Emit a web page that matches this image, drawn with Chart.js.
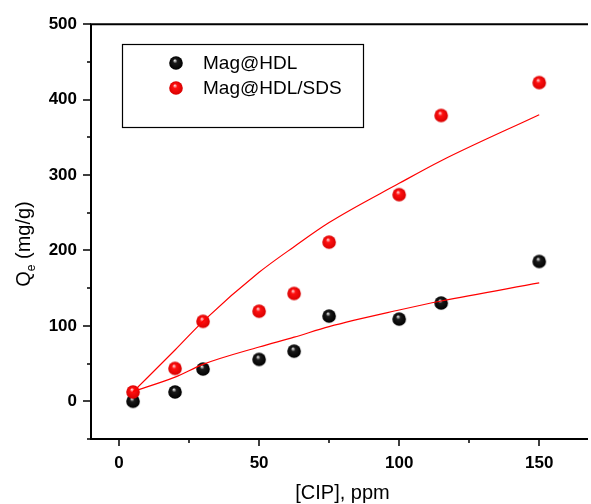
<!DOCTYPE html>
<html>
<head>
<meta charset="utf-8">
<script src="https://cdn.jsdelivr.net/npm/chart.js@4.4.1/dist/chart.umd.min.js"></script>
<style>
  html, body { margin: 0; padding: 0; background: #fff; }
  #wrap { width: 591px; height: 504px; }
</style>
</head>
<body>
<div id="wrap"><canvas id="qe"></canvas></div>
<script>
// CIP concentration, ppm
const cipConc = [5, 20, 30, 50, 62.5, 75, 100, 115, 150];
// measured uptake Qe, mg/g
const qeHdl = [0, 12.4, 42.8, 55.5, 66.5, 113, 109, 130.3, 185.4];
const qeHdlSds = [12.4, 43.6, 106, 119.4, 143, 211, 274, 379, 422.6];
// fitted curves at the same concentrations
const fitHdl = [13, 32, 49, 72, 85, 99, 121, 133, 157];
const fitHdlSds = [12.4, 68, 106, 171, 205, 237, 289, 319, 380];

const seriesNames = ['Mag@HDL', 'Mag@HDL/SDS'];
const xTicks = [0, 25, 50, 75, 100, 125, 150];
const yTicks = [-50, 0, 50, 100, 150, 200, 250, 300, 350, 400, 450, 500];
const xLabelStep = 50;
const yLabelStep = 100;

const FONT = "'Liberation Sans', Arial, sans-serif";

// small shaded sphere used as point marker
function makeBall(light, mid, dark) {
    const size = 16, r = 6.8;
    const c = document.createElement('canvas');
    c.width = size;
    c.height = size;
    const g = c.getContext('2d');
    const cx = size / 2, cy = size / 2;
    const grad = g.createRadialGradient(cx - 1.2, cy - 2.6, 0.3, cx, cy, r);
    grad.addColorStop(0, light);
    grad.addColorStop(0.3, mid);
    grad.addColorStop(1, dark);
    g.fillStyle = grad;
    g.beginPath();
    g.arc(cx, cy, r, 0, Math.PI * 2);
    g.fill();
    return c;
}

const blackBall = makeBall('#e8e8e8', '#1a1a1a', '#000000');
const redBall = makeBall('#ffd6d6', '#ff1010', '#d80000');

const toXY = (ys) => cipConc.map((x, i) => ({ x: x, y: ys[i] }));

// frame, tick marks, legend box and axis titles
const decorPlugin = {
    id: 'decor',
    afterDraw(chart) {
        const ctx = chart.ctx;
        const area = chart.chartArea;
        const xs = chart.scales.x;
        const ys = chart.scales.y;
        ctx.save();

        ctx.strokeStyle = '#000';
        ctx.lineWidth = 2;
        ctx.beginPath();
        ctx.moveTo(area.right + 2, area.top);
        ctx.lineTo(area.left, area.top);
        ctx.lineTo(area.left, area.bottom);
        ctx.lineTo(area.right + 2, area.bottom);
        ctx.stroke();

        ctx.lineWidth = 1.5;
        ctx.beginPath();
        yTicks.forEach(v => {
            const py = Math.round(ys.getPixelForValue(v));
            const len = v % yLabelStep === 0 ? 8 : 4;
            ctx.moveTo(area.left, py);
            ctx.lineTo(area.left - len, py);
        });
        xTicks.forEach(v => {
            const px = Math.round(xs.getPixelForValue(v));
            const len = v % xLabelStep === 0 ? 7 : 4;
            ctx.moveTo(px, area.bottom);
            ctx.lineTo(px, area.bottom + len);
        });
        ctx.stroke();

        // legend
        const lx = 122, ly = 44, lw = 241, lh = 83;
        ctx.lineWidth = 1.2;
        ctx.strokeRect(lx + 0.5, ly + 0.5, lw, lh);
        ctx.fillStyle = '#000';
        ctx.font = '19px ' + FONT;
        ctx.textBaseline = 'middle';
        ctx.textAlign = 'left';
        [blackBall, redBall].forEach((img, i) => {
            const cy = 63 + i * 25;
            ctx.drawImage(img, 176 - img.width / 2, cy - img.height / 2);
            ctx.fillText(seriesNames[i], 203, cy + 1);
        });

        // x title
        ctx.font = '20px ' + FONT;
        ctx.textAlign = 'center';
        ctx.textBaseline = 'alphabetic';
        ctx.fillText('[CIP], ppm', (area.left + area.right) / 2 + 4, 499);

        // y title with subscript
        ctx.translate(30, 244);
        ctx.rotate(-Math.PI / 2);
        ctx.textAlign = 'left';
        const big = '20px ' + FONT, small = '12px ' + FONT;
        ctx.font = big;
        const wQ = ctx.measureText('Q').width;
        const wRest = ctx.measureText(' (mg/g)').width;
        ctx.font = small;
        const wE = ctx.measureText('e').width;
        let x0 = -(wQ + wE + wRest) / 2;
        ctx.font = big;
        ctx.fillText('Q', x0, 0);
        ctx.font = small;
        ctx.fillText('e', x0 + wQ, 5);
        ctx.font = big;
        ctx.fillText(' (mg/g)', x0 + wQ + wE, 0);

        ctx.restore();
    }
};

new Chart(document.getElementById('qe'), {
    type: 'scatter',
    data: {
        datasets: [
            {
                label: 'fit SDS',
                type: 'line',
                data: toXY(fitHdlSds),
                borderColor: '#ff0000',
                borderWidth: 1.2,
                pointRadius: 0,
                cubicInterpolationMode: 'monotone',
                fill: false,
                order: 0
            },
            {
                label: 'fit HDL',
                type: 'line',
                data: toXY(fitHdl),
                borderColor: '#ff0000',
                borderWidth: 1.2,
                pointRadius: 0,
                cubicInterpolationMode: 'monotone',
                fill: false,
                order: 0
            },
            {
                label: seriesNames[1],
                data: toXY(qeHdlSds),
                pointStyle: redBall,
                order: 1
            },
            {
                label: seriesNames[0],
                data: toXY(qeHdl),
                pointStyle: blackBall,
                order: 2
            }
        ]
    },
    options: {
        responsive: true,
        maintainAspectRatio: false,
        animation: false,
        layout: { padding: { top: 23, right: 0, left: 0, bottom: 0 } },
        plugins: {
            legend: { display: false },
            tooltip: { enabled: false }
        },
        scales: {
            x: {
                type: 'linear',
                min: -10,
                max: 166.7,
                afterFit: (s) => { s.height = 65; },
                afterBuildTicks: (s) => { s.ticks = xTicks.map(v => ({ value: v })); },
                grid: { display: false, drawTicks: false },
                border: { display: false },
                ticks: {
                    color: '#000',
                    padding: 14,
                    maxRotation: 0,
                    font: { family: FONT, size: 17, weight: 'bold' },
                    callback: (v) => v % xLabelStep === 0 ? String(v) : ''
                }
            },
            y: {
                type: 'linear',
                min: -50,
                max: 500,
                afterFit: (s) => { s.width = 91; },
                afterBuildTicks: (s) => { s.ticks = yTicks.map(v => ({ value: v })); },
                grid: { display: false, drawTicks: false },
                border: { display: false },
                ticks: {
                    color: '#000',
                    padding: 14,
                    font: { family: FONT, size: 17, weight: 'bold' },
                    callback: (v) => (v % yLabelStep === 0) ? String(v) : ''
                }
            }
        }
    },
    plugins: [decorPlugin]
});
</script>
</body>
</html>
